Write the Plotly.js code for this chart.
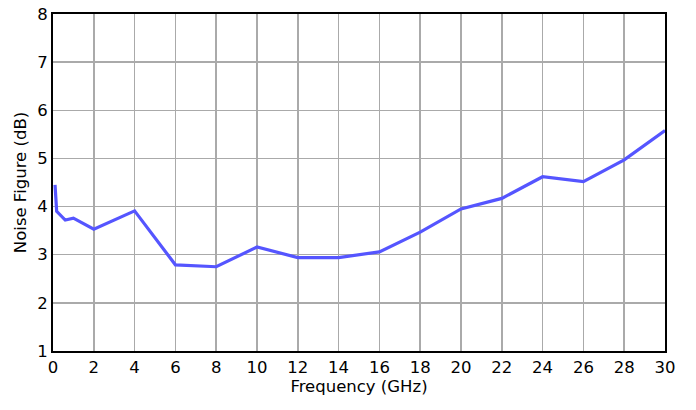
<!DOCTYPE html>
<html>
<head>
<meta charset="utf-8">
<script src="https://cdn.plot.ly/plotly-3.0.1.min.js"></script>
<style>html,body{margin:0;padding:0;background:#fff;}#chart{width:696px;height:410px;}</style>
</head>
<body>
<div id="chart"></div>
<script>
const frequencyGHz = [0.1, 0.18, 0.6, 1, 2, 4, 6, 8, 10, 12, 14, 16, 18, 20, 22, 24, 26, 28, 30];
const noiseFigureDb = [4.45, 3.9, 3.72, 3.76, 3.53, 3.91, 2.79, 2.75, 3.16, 2.94, 2.94, 3.06, 3.47, 3.95, 4.17, 4.62, 4.52, 4.97, 5.58];
const xTicks = [0, 2, 4, 6, 8, 10, 12, 14, 16, 18, 20, 22, 24, 26, 28, 30];
const yTicks = [1, 2, 3, 4, 5, 6, 7, 8];

const fam = 'DejaVu Sans, Verdana, sans-serif';
const tickFont = {family: fam, size: 16.5, color: '#000'};
const titleFont = {family: fam, size: 16.5, color: '#000'};
Plotly.newPlot('chart', [{
  x: frequencyGHz, y: noiseFigureDb, type: 'scatter', mode: 'lines',
  line: {color: '#5555ff', width: 3.2}, hoverinfo: 'skip'
}], {
  width: 696, height: 410,
  margin: {l: 53, r: 31, t: 14, b: 59},
  paper_bgcolor: '#fff', plot_bgcolor: '#fff',
  showlegend: false,
  font: tickFont,
  xaxis: {
    range: [0, 30], tickvals: xTicks, ticktext: xTicks.map(String),
    showgrid: true, gridcolor: '#aaaaaa', gridwidth: 1.5,
    showline: true, linecolor: '#000', linewidth: 2, mirror: true,
    ticks: '', zeroline: false, tickfont: tickFont,
    title: {text: 'Frequency (GHz)', font: titleFont, standoff: 5}
  },
  yaxis: {
    range: [1, 8], tickvals: yTicks, ticktext: yTicks.map(String),
    showgrid: true, gridcolor: '#aaaaaa', gridwidth: 1.5,
    showline: true, linecolor: '#000', linewidth: 2, mirror: true,
    ticks: '', zeroline: false, tickfont: tickFont,
    title: {text: 'Noise Figure (dB)', font: titleFont, standoff: 6}
  }
}, {staticPlot: true});
</script>
</body>
</html>
